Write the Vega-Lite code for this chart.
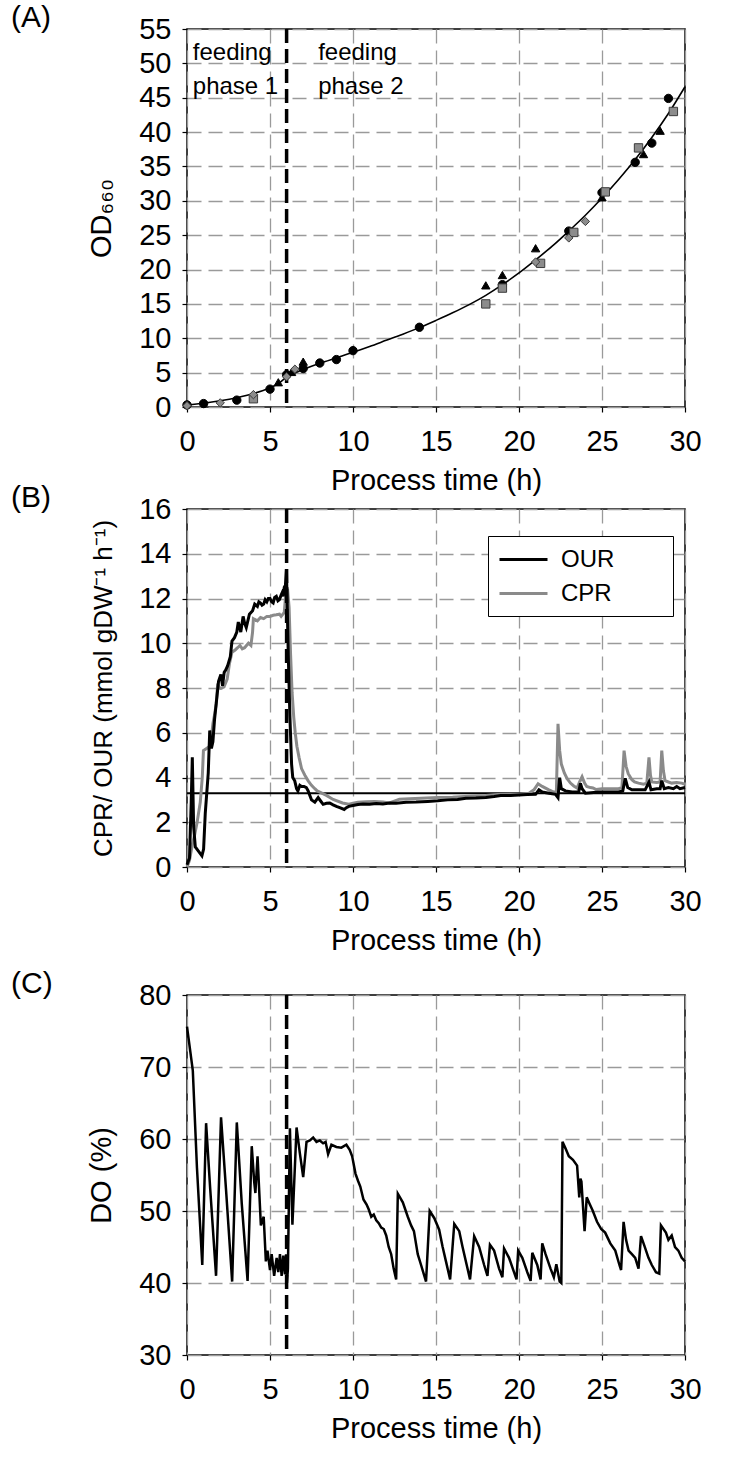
{
  "$schema": "https://vega.github.io/schema/vega-lite/v6.json",
  "padding": {"left": 10, "top": 2, "right": 10, "bottom": 5},
  "spacing": -14,
  "config": {
    "font": "Liberation Sans",
    "view": {"stroke": "black", "strokeWidth": 1.5},
    "axis": {
      "labelFontSize": 29, "titleFontSize": 29, "titleFontWeight": "normal",
      "labelColor": "black", "titleColor": "black", "tickColor": "black",
      "tickSize": 5, "tickWidth": 1.2, "domain": false,
      "gridColor": "#9a9a9a", "gridDash": [14, 7], "gridWidth": 1.3,
      "labelFlush": false, "labelOverlap": false, "labelBound": false,
      "labelFont": "Liberation Sans", "titleFont": "Liberation Sans"
    },
    "axisY": {"titlePadding": 22, "labelPadding": 11},
    "axisX": {"titlePadding": 10, "labelPadding": 15},
    "title": {"fontSize": 30, "fontWeight": "normal", "anchor": "start", "frame": "group", "dx": -176, "offset": -18, "baseline": "alphabetic", "color": "black"}
  },
  "datasets": {
    "fit": [
      {"t":0,"v":0.3},{"t":1,"v":0.55},{"t":2,"v":0.9},{"t":3,"v":1.35},{"t":4,"v":1.95},{"t":5,"v":2.8},{"t":5.5,"v":3.4},{"t":6,"v":4.35},{"t":6.5,"v":4.95},{"t":7,"v":5.45},{"t":8,"v":6.35},{"t":9,"v":7.15},{"t":10,"v":7.95},{"t":11,"v":8.8},{"t":12,"v":9.7},{"t":13,"v":10.6},{"t":14,"v":11.55},{"t":15,"v":12.6},{"t":16,"v":13.7},{"t":17,"v":14.9},{"t":18,"v":16.25},{"t":19,"v":17.8},{"t":20,"v":19.5},{"t":21,"v":21.4},{"t":22,"v":23.4},{"t":23,"v":25.6},{"t":24,"v":27.9},{"t":25,"v":30.4},{"t":26,"v":33.1},{"t":27,"v":36.0},{"t":28,"v":39.2},{"t":29,"v":42.7},{"t":30,"v":46.6}
    ],
    "phase": [{"t": 6}],
    "ref": [{"v": 3.3}],
    "labels": [
      {"t":0.35,"v":51.5,"label":"feeding"},{"t":0.35,"v":46.5,"label":"phase 1"},
      {"t":7.9,"v":51.5,"label":"feeding"},{"t":7.9,"v":46.5,"label":"phase 2"}
    ],
    "od": [
      {"s":"c","t":0,"v":0.3},{"s":"c","t":1,"v":0.5},{"s":"c","t":3,"v":1.0},{"s":"c","t":5,"v":2.6},{"s":"c","t":6,"v":4.7},{"s":"c","t":7,"v":5.6},{"s":"c","t":8,"v":6.4},{"s":"c","t":9,"v":6.9},{"s":"c","t":10,"v":8.2},{"s":"c","t":14,"v":11.6},{"s":"c","t":19,"v":17.8},{"s":"c","t":23,"v":25.6},{"s":"c","t":25,"v":31.2},{"s":"c","t":27,"v":35.6},{"s":"c","t":28,"v":38.4},{"s":"c","t":29,"v":44.9},
      {"s":"t","t":5.5,"v":3.6},{"s":"t","t":6.3,"v":5.1},{"s":"t","t":7,"v":6.6},{"s":"t","t":18,"v":17.7},{"s":"t","t":19,"v":19.2},{"s":"t","t":21,"v":23.1},{"s":"t","t":25,"v":30.5},{"s":"t","t":27.5,"v":36.8},{"s":"t","t":28.5,"v":40.2},
      {"s":"q","t":4,"v":1.2},{"s":"q","t":18,"v":15.0},{"s":"q","t":19,"v":17.3},{"s":"q","t":21.3,"v":20.9},{"s":"q","t":23.3,"v":25.4},{"s":"q","t":25.2,"v":31.3},{"s":"q","t":27.2,"v":37.7},{"s":"q","t":29.3,"v":43.0},
      {"s":"d","t":0,"v":0.2},{"s":"d","t":2,"v":0.6},{"s":"d","t":4,"v":1.8},{"s":"d","t":6,"v":4.4},{"s":"d","t":6.5,"v":5.5},{"s":"d","t":21,"v":21.1},{"s":"d","t":23,"v":24.6},{"s":"d","t":24,"v":27.0}
    ],
    "rates": [
      {"s":"CPR","t":0,"v":0.0},{"s":"CPR","t":0.15,"v":0.3},{"s":"CPR","t":0.32,"v":1.0},{"s":"CPR","t":0.45,"v":1.4},{"s":"CPR","t":0.61,"v":2.0},{"s":"CPR","t":0.8,"v":2.9},{"s":"CPR","t":0.92,"v":4.0},{"s":"CPR","t":0.99,"v":5.2},{"s":"CPR","t":1.18,"v":5.3},{"s":"CPR","t":1.37,"v":5.4},{"s":"CPR","t":1.47,"v":5.8},{"s":"CPR","t":1.56,"v":6.4},{"s":"CPR","t":1.66,"v":6.8},{"s":"CPR","t":1.76,"v":7.3},{"s":"CPR","t":1.85,"v":8.2},{"s":"CPR","t":1.95,"v":8.0},{"s":"CPR","t":2.04,"v":7.98},{"s":"CPR","t":2.23,"v":8.05},{"s":"CPR","t":2.42,"v":8.4},{"s":"CPR","t":2.56,"v":9.1},{"s":"CPR","t":2.71,"v":9.6},{"s":"CPR","t":2.9,"v":9.7},{"s":"CPR","t":3.05,"v":9.8},{"s":"CPR","t":3.19,"v":9.9},{"s":"CPR","t":3.33,"v":9.75},{"s":"CPR","t":3.47,"v":9.8},{"s":"CPR","t":3.7,"v":10.0},{"s":"CPR","t":3.85,"v":9.9},{"s":"CPR","t":3.95,"v":10.5},{"s":"CPR","t":4.0,"v":11.1},{"s":"CPR","t":4.24,"v":11.0},{"s":"CPR","t":4.43,"v":11.15},{"s":"CPR","t":4.62,"v":11.1},{"s":"CPR","t":4.81,"v":11.2},{"s":"CPR","t":5.0,"v":11.2},{"s":"CPR","t":5.19,"v":11.25},{"s":"CPR","t":5.38,"v":11.27},{"s":"CPR","t":5.57,"v":11.3},{"s":"CPR","t":5.67,"v":11.2},{"s":"CPR","t":5.86,"v":11.38},{"s":"CPR","t":5.95,"v":12.2},{"s":"CPR","t":6.05,"v":12.5},{"s":"CPR","t":6.15,"v":11.6},{"s":"CPR","t":6.24,"v":9.5},{"s":"CPR","t":6.33,"v":7.8},{"s":"CPR","t":6.43,"v":6.7},{"s":"CPR","t":6.52,"v":6.0},{"s":"CPR","t":6.62,"v":5.4},{"s":"CPR","t":6.75,"v":4.9},{"s":"CPR","t":6.9,"v":4.4},{"s":"CPR","t":7.1,"v":4.1},{"s":"CPR","t":7.3,"v":3.85},{"s":"CPR","t":7.5,"v":3.65},{"s":"CPR","t":7.7,"v":3.5},{"s":"CPR","t":7.84,"v":3.4},{"s":"CPR","t":8.0,"v":3.35},{"s":"CPR","t":8.4,"v":3.2},{"s":"CPR","t":8.8,"v":3.02},{"s":"CPR","t":9.37,"v":2.86},{"s":"CPR","t":9.75,"v":2.81},{"s":"CPR","t":10.0,"v":2.85},{"s":"CPR","t":10.3,"v":2.89},{"s":"CPR","t":10.8,"v":2.92},{"s":"CPR","t":11.3,"v":2.93},{"s":"CPR","t":11.8,"v":2.9},{"s":"CPR","t":12.2,"v":2.86},{"s":"CPR","t":12.8,"v":3.03},{"s":"CPR","t":13.4,"v":3.05},{"s":"CPR","t":14.1,"v":3.07},{"s":"CPR","t":15.1,"v":3.11},{"s":"CPR","t":16.0,"v":3.12},{"s":"CPR","t":17.2,"v":3.17},{"s":"CPR","t":18.0,"v":3.2},{"s":"CPR","t":18.7,"v":3.24},{"s":"CPR","t":19.5,"v":3.25},{"s":"CPR","t":20.0,"v":3.25},{"s":"CPR","t":20.6,"v":3.3},{"s":"CPR","t":20.9,"v":3.45},{"s":"CPR","t":21.15,"v":3.72},{"s":"CPR","t":21.4,"v":3.6},{"s":"CPR","t":21.8,"v":3.45},{"s":"CPR","t":22.0,"v":3.38},{"s":"CPR","t":22.25,"v":3.32},{"s":"CPR","t":22.35,"v":6.4},{"s":"CPR","t":22.45,"v":5.2},{"s":"CPR","t":22.55,"v":4.6},{"s":"CPR","t":22.73,"v":4.2},{"s":"CPR","t":22.9,"v":3.95},{"s":"CPR","t":23.1,"v":3.75},{"s":"CPR","t":23.3,"v":3.62},{"s":"CPR","t":23.5,"v":3.53},{"s":"CPR","t":23.65,"v":3.8},{"s":"CPR","t":23.8,"v":4.03},{"s":"CPR","t":23.95,"v":3.75},{"s":"CPR","t":24.08,"v":3.6},{"s":"CPR","t":24.3,"v":3.55},{"s":"CPR","t":24.46,"v":3.53},{"s":"CPR","t":24.65,"v":3.46},{"s":"CPR","t":25.0,"v":3.5},{"s":"CPR","t":25.5,"v":3.5},{"s":"CPR","t":26.0,"v":3.5},{"s":"CPR","t":26.2,"v":3.55},{"s":"CPR","t":26.33,"v":5.2},{"s":"CPR","t":26.45,"v":4.5},{"s":"CPR","t":26.58,"v":4.17},{"s":"CPR","t":26.8,"v":3.9},{"s":"CPR","t":26.96,"v":3.8},{"s":"CPR","t":27.2,"v":3.75},{"s":"CPR","t":27.5,"v":3.7},{"s":"CPR","t":27.7,"v":3.75},{"s":"CPR","t":27.83,"v":4.9},{"s":"CPR","t":27.92,"v":4.1},{"s":"CPR","t":28.0,"v":3.8},{"s":"CPR","t":28.3,"v":3.78},{"s":"CPR","t":28.5,"v":3.8},{"s":"CPR","t":28.6,"v":5.2},{"s":"CPR","t":28.7,"v":4.3},{"s":"CPR","t":28.8,"v":3.86},{"s":"CPR","t":29.0,"v":3.8},{"s":"CPR","t":29.2,"v":3.75},{"s":"CPR","t":29.5,"v":3.78},{"s":"CPR","t":29.8,"v":3.75},{"s":"CPR","t":30.0,"v":3.7},
      {"s":"OUR","t":0,"v":0.1},{"s":"OUR","t":0.15,"v":0.4},{"s":"OUR","t":0.25,"v":2.8},{"s":"OUR","t":0.32,"v":4.9},{"s":"OUR","t":0.4,"v":1.8},{"s":"OUR","t":0.5,"v":0.9},{"s":"OUR","t":0.7,"v":0.7},{"s":"OUR","t":0.9,"v":0.5},{"s":"OUR","t":1.0,"v":0.8},{"s":"OUR","t":1.1,"v":2.4},{"s":"OUR","t":1.2,"v":3.4},{"s":"OUR","t":1.28,"v":4.2},{"s":"OUR","t":1.37,"v":6.1},{"s":"OUR","t":1.47,"v":5.3},{"s":"OUR","t":1.56,"v":5.6},{"s":"OUR","t":1.66,"v":6.6},{"s":"OUR","t":1.76,"v":7.3},{"s":"OUR","t":1.9,"v":8.3},{"s":"OUR","t":2.04,"v":8.6},{"s":"OUR","t":2.14,"v":8.1},{"s":"OUR","t":2.24,"v":8.7},{"s":"OUR","t":2.33,"v":8.8},{"s":"OUR","t":2.45,"v":9.0},{"s":"OUR","t":2.61,"v":9.4},{"s":"OUR","t":2.71,"v":10.1},{"s":"OUR","t":2.86,"v":10.25},{"s":"OUR","t":3.0,"v":10.5},{"s":"OUR","t":3.09,"v":10.95},{"s":"OUR","t":3.24,"v":10.5},{"s":"OUR","t":3.38,"v":11.2},{"s":"OUR","t":3.47,"v":10.9},{"s":"OUR","t":3.57,"v":10.7},{"s":"OUR","t":3.76,"v":11.3},{"s":"OUR","t":3.95,"v":11.45},{"s":"OUR","t":4.08,"v":11.75},{"s":"OUR","t":4.24,"v":11.65},{"s":"OUR","t":4.33,"v":11.85},{"s":"OUR","t":4.43,"v":11.8},{"s":"OUR","t":4.52,"v":11.7},{"s":"OUR","t":4.62,"v":11.75},{"s":"OUR","t":4.71,"v":11.95},{"s":"OUR","t":4.81,"v":11.85},{"s":"OUR","t":4.9,"v":12.0},{"s":"OUR","t":5.0,"v":12.0},{"s":"OUR","t":5.1,"v":11.85},{"s":"OUR","t":5.19,"v":11.8},{"s":"OUR","t":5.28,"v":12.05},{"s":"OUR","t":5.38,"v":12.1},{"s":"OUR","t":5.48,"v":11.9},{"s":"OUR","t":5.57,"v":11.95},{"s":"OUR","t":5.67,"v":12.15},{"s":"OUR","t":5.73,"v":12.25},{"s":"OUR","t":5.8,"v":12.1},{"s":"OUR","t":5.86,"v":12.5},{"s":"OUR","t":5.93,"v":12.6},{"s":"OUR","t":5.99,"v":13.3},{"s":"OUR","t":6.1,"v":9.5},{"s":"OUR","t":6.2,"v":6.7},{"s":"OUR","t":6.3,"v":4.6},{"s":"OUR","t":6.37,"v":4.0},{"s":"OUR","t":6.49,"v":3.85},{"s":"OUR","t":6.6,"v":3.5},{"s":"OUR","t":6.68,"v":3.4},{"s":"OUR","t":6.8,"v":3.65},{"s":"OUR","t":6.9,"v":3.6},{"s":"OUR","t":7.05,"v":3.6},{"s":"OUR","t":7.19,"v":3.55},{"s":"OUR","t":7.3,"v":3.4},{"s":"OUR","t":7.4,"v":3.2},{"s":"OUR","t":7.5,"v":3.0},{"s":"OUR","t":7.7,"v":2.9},{"s":"OUR","t":7.9,"v":3.1},{"s":"OUR","t":8.05,"v":2.95},{"s":"OUR","t":8.2,"v":2.8},{"s":"OUR","t":8.4,"v":2.85},{"s":"OUR","t":8.6,"v":2.86},{"s":"OUR","t":8.8,"v":2.78},{"s":"OUR","t":9.0,"v":2.71},{"s":"OUR","t":9.2,"v":2.65},{"s":"OUR","t":9.47,"v":2.57},{"s":"OUR","t":9.6,"v":2.65},{"s":"OUR","t":9.75,"v":2.71},{"s":"OUR","t":10.0,"v":2.75},{"s":"OUR","t":10.3,"v":2.79},{"s":"OUR","t":10.6,"v":2.82},{"s":"OUR","t":11.0,"v":2.8},{"s":"OUR","t":11.4,"v":2.84},{"s":"OUR","t":11.8,"v":2.82},{"s":"OUR","t":12.2,"v":2.86},{"s":"OUR","t":12.6,"v":2.85},{"s":"OUR","t":13.2,"v":2.89},{"s":"OUR","t":13.8,"v":2.9},{"s":"OUR","t":14.5,"v":2.93},{"s":"OUR","t":15.1,"v":2.96},{"s":"OUR","t":15.7,"v":3.0},{"s":"OUR","t":16.3,"v":3.02},{"s":"OUR","t":16.8,"v":3.07},{"s":"OUR","t":17.4,"v":3.08},{"s":"OUR","t":18.0,"v":3.11},{"s":"OUR","t":18.5,"v":3.15},{"s":"OUR","t":18.9,"v":3.2},{"s":"OUR","t":19.5,"v":3.2},{"s":"OUR","t":20.0,"v":3.22},{"s":"OUR","t":20.5,"v":3.24},{"s":"OUR","t":21.0,"v":3.25},{"s":"OUR","t":21.2,"v":3.45},{"s":"OUR","t":21.4,"v":3.35},{"s":"OUR","t":21.8,"v":3.3},{"s":"OUR","t":22.2,"v":3.25},{"s":"OUR","t":22.35,"v":3.1},{"s":"OUR","t":22.45,"v":3.99},{"s":"OUR","t":22.55,"v":3.5},{"s":"OUR","t":22.8,"v":3.4},{"s":"OUR","t":23.2,"v":3.35},{"s":"OUR","t":23.6,"v":3.35},{"s":"OUR","t":23.7,"v":3.74},{"s":"OUR","t":23.8,"v":3.5},{"s":"OUR","t":24.0,"v":3.3},{"s":"OUR","t":24.5,"v":3.33},{"s":"OUR","t":25.0,"v":3.35},{"s":"OUR","t":25.5,"v":3.35},{"s":"OUR","t":26.0,"v":3.35},{"s":"OUR","t":26.25,"v":3.4},{"s":"OUR","t":26.4,"v":3.96},{"s":"OUR","t":26.55,"v":3.55},{"s":"OUR","t":26.8,"v":3.45},{"s":"OUR","t":27.2,"v":3.45},{"s":"OUR","t":27.6,"v":3.45},{"s":"OUR","t":27.83,"v":3.8},{"s":"OUR","t":27.95,"v":3.45},{"s":"OUR","t":28.3,"v":3.5},{"s":"OUR","t":28.5,"v":3.5},{"s":"OUR","t":28.6,"v":3.86},{"s":"OUR","t":28.75,"v":3.5},{"s":"OUR","t":29.0,"v":3.55},{"s":"OUR","t":29.3,"v":3.5},{"s":"OUR","t":29.5,"v":3.6},{"s":"OUR","t":29.7,"v":3.5},{"s":"OUR","t":30.0,"v":3.55}
    ],
    "dox": [
      {"t":0,"v":75.6},{"t":0.15,"v":73},{"t":0.35,"v":69.5},{"t":0.6,"v":56},{"t":0.92,"v":42.5},{"t":1.15,"v":62.2},{"t":1.4,"v":53},{"t":1.75,"v":41},{"t":2.05,"v":63.0},{"t":2.35,"v":53},{"t":2.72,"v":40.2},{"t":3.0,"v":62.3},{"t":3.3,"v":51},{"t":3.65,"v":40.3},{"t":3.9,"v":59.0},{"t":4.05,"v":54},{"t":4.12,"v":52.5},{"t":4.25,"v":57.6},{"t":4.45,"v":48},{"t":4.62,"v":49.2},{"t":4.75,"v":43},{"t":4.85,"v":44.5},{"t":5.0,"v":41.8},{"t":5.1,"v":44},{"t":5.25,"v":41},{"t":5.4,"v":43.5},{"t":5.5,"v":41.5},{"t":5.6,"v":44},{"t":5.7,"v":41},{"t":5.8,"v":43.8},{"t":5.9,"v":41.2},{"t":5.97,"v":44},{"t":6.02,"v":40},{"t":6.08,"v":42},{"t":6.2,"v":61.5},{"t":6.35,"v":48.1},{"t":6.6,"v":61.6},{"t":6.8,"v":58},{"t":7.0,"v":54.7},{"t":7.2,"v":59.6},{"t":7.4,"v":59.8},{"t":7.6,"v":60.2},{"t":7.8,"v":59.6},{"t":8.0,"v":59.8},{"t":8.2,"v":59.4},{"t":8.35,"v":59.6},{"t":8.5,"v":57.9},{"t":8.7,"v":59.2},{"t":9.0,"v":58.9},{"t":9.3,"v":58.8},{"t":9.6,"v":59.2},{"t":9.8,"v":58.5},{"t":9.95,"v":57.6},{"t":10.15,"v":55.2},{"t":10.3,"v":54.2},{"t":10.44,"v":53.4},{"t":10.63,"v":51.6},{"t":10.82,"v":50.9},{"t":10.95,"v":50.2},{"t":11.1,"v":49.2},{"t":11.25,"v":49.5},{"t":11.4,"v":48.7},{"t":11.55,"v":48.3},{"t":11.7,"v":47.7},{"t":11.85,"v":47.5},{"t":12.0,"v":46.6},{"t":12.15,"v":45},{"t":12.3,"v":44},{"t":12.45,"v":42},{"t":12.6,"v":40.5},{"t":12.7,"v":52.4},{"t":13.0,"v":51.2},{"t":13.3,"v":49.2},{"t":13.5,"v":48},{"t":13.67,"v":47.2},{"t":13.9,"v":44},{"t":14.1,"v":42.5},{"t":14.4,"v":40.2},{"t":14.62,"v":50.0},{"t":14.9,"v":49.0},{"t":15.19,"v":47.4},{"t":15.4,"v":45},{"t":15.6,"v":43},{"t":15.85,"v":40.5},{"t":16.1,"v":48.2},{"t":16.4,"v":47.2},{"t":16.6,"v":45},{"t":16.85,"v":42.5},{"t":17.05,"v":40.5},{"t":17.3,"v":46.5},{"t":17.6,"v":45},{"t":17.9,"v":42.5},{"t":18.1,"v":41},{"t":18.25,"v":45.3},{"t":18.5,"v":44.5},{"t":18.8,"v":42},{"t":19.0,"v":40.8},{"t":19.1,"v":44.8},{"t":19.4,"v":43.5},{"t":19.7,"v":41.5},{"t":19.85,"v":40.5},{"t":19.95,"v":44.5},{"t":20.2,"v":43.5},{"t":20.5,"v":41.5},{"t":20.7,"v":40.3},{"t":20.8,"v":44.2},{"t":21.1,"v":42.5},{"t":21.3,"v":40.5},{"t":21.4,"v":45.5},{"t":21.6,"v":44},{"t":21.9,"v":42},{"t":22.1,"v":40.8},{"t":22.25,"v":42.6},{"t":22.45,"v":40.2},{"t":22.55,"v":40},{"t":22.62,"v":59.6},{"t":22.8,"v":58.7},{"t":23.0,"v":57.6},{"t":23.25,"v":57.1},{"t":23.5,"v":56.3},{"t":23.63,"v":51.9},{"t":23.7,"v":54.5},{"t":23.76,"v":54.1},{"t":23.95,"v":47.2},{"t":24.08,"v":51.9},{"t":24.25,"v":51},{"t":24.43,"v":50.1},{"t":24.7,"v":48.5},{"t":24.95,"v":47.5},{"t":25.19,"v":47.0},{"t":25.5,"v":45.5},{"t":25.8,"v":44.5},{"t":26.05,"v":42.5},{"t":26.15,"v":41.8},{"t":26.3,"v":48.5},{"t":26.45,"v":46},{"t":26.6,"v":44.5},{"t":26.8,"v":44},{"t":27.0,"v":43.5},{"t":27.2,"v":42},{"t":27.35,"v":46.5},{"t":27.55,"v":45.2},{"t":27.8,"v":43.5},{"t":28.0,"v":42.5},{"t":28.25,"v":41.5},{"t":28.45,"v":41.3},{"t":28.55,"v":48},{"t":28.7,"v":47.5},{"t":28.85,"v":47},{"t":29.0,"v":46},{"t":29.2,"v":46.6},{"t":29.4,"v":45},{"t":29.6,"v":44.5},{"t":29.8,"v":43.5},{"t":30.0,"v":43}
    ]
  },
  "vconcat": [
    {
      "width": 498, "height": 378,
      "title": {"text": "(A)"},
      "layer": [
        {
          "data": {"name": "fit"},
          "mark": {"type": "line", "color": "black", "strokeWidth": 1.6, "interpolate": "monotone"},
          "encoding": {
            "x": {"field": "t", "type": "quantitative", "scale": {"domain": [0, 30], "nice": false}, "axis": {"values": [0,5,10,15,20,25,30], "title": "Process time (h)", "labelOverlap": false, "tickCount": 20}},
            "y": {"field": "v", "type": "quantitative", "scale": {"domain": [0, 55], "nice": false}, "axis": {"values": [0,5,10,15,20,25,30,35,40,45,50,55], "title": "OD₆₆₀", "labelOverlap": false, "tickCount": 20}}
          }
        },
        {
          "data": {"name": "phase"},
          "mark": {"type": "rule", "color": "black", "strokeWidth": 3.5, "strokeDash": [14, 6]},
          "encoding": {"x": {"field": "t", "type": "quantitative"}}
        },
        {
          "data": {"name": "od"},
          "mark": {"type": "point", "filled": true, "opacity": 1, "size": 70, "strokeWidth": 1},
          "encoding": {
            "x": {"field": "t", "type": "quantitative"},
            "y": {"field": "v", "type": "quantitative"},
            "shape": {"field": "s", "type": "nominal", "scale": {"domain": ["c","t","q","d"], "range": ["circle","triangle-up","square","diamond"]}, "legend": null},
            "fill": {"field": "s", "type": "nominal", "scale": {"domain": ["c","t","q","d"], "range": ["black","black","#8c8c8c","#8c8c8c"]}, "legend": null},
            "stroke": {"field": "s", "type": "nominal", "scale": {"domain": ["c","t","q","d"], "range": ["black","black","#3c3c3c","#3c3c3c"]}, "legend": null}
          }
        },
        {
          "data": {"name": "labels"},
          "mark": {"type": "text", "align": "left", "baseline": "middle", "fontSize": 24, "color": "black"},
          "encoding": {
            "x": {"field": "t", "type": "quantitative"},
            "y": {"field": "v", "type": "quantitative"},
            "text": {"field": "label"}
          }
        }
      ]
    },
    {
      "bounds": "flush",
      "spacing": 128,
      "vconcat": [
        {
          "width": 498, "height": 358,
          "title": {"text": "(B)"},
          "layer": [
            {
              "data": {"name": "ref"},
              "mark": {"type": "rule", "color": "black", "strokeWidth": 2},
              "encoding": {
                "y": {"field": "v", "type": "quantitative", "scale": {"domain": [0, 16], "nice": false}, "axis": {"values": [0,2,4,6,8,10,12,14,16], "title": "CPR/ OUR (mmol gDW⁻¹ h⁻¹)", "titleFontSize": 26, "labelOverlap": false, "tickCount": 20}}
              }
            },
            {
              "data": {"name": "rates"},
              "transform": [{"filter": "datum.s === 'CPR'"}],
              "mark": {"type": "line", "strokeWidth": 3},
              "encoding": {
                "x": {"field": "t", "type": "quantitative", "scale": {"domain": [0, 30], "nice": false}, "axis": {"values": [0,5,10,15,20,25,30], "title": "Process time (h)", "labelOverlap": false, "tickCount": 20}},
                "y": {"field": "v", "type": "quantitative"},
                "color": {"field": "s", "type": "nominal", "scale": {"domain": ["OUR","CPR"], "range": ["black","#8a8a8a"]},
                  "legend": {"orient": "none", "legendX": 301, "legendY": 507, "title": null, "strokeColor": "black", "fillColor": "white", "padding": 10, "labelFontSize": 24, "labelColor": "black", "symbolType": "M-1,0H3", "symbolStrokeWidth": 3, "symbolSize": 576, "rowPadding": 8, "labelOffset": 36, "labelExpr": "datum.label + '\u2003\u2003\u200b'"}}
              }
            },
            {
              "data": {"name": "rates"},
              "transform": [{"filter": "datum.s === 'OUR'"}],
              "mark": {"type": "line", "strokeWidth": 3},
              "encoding": {
                "x": {"field": "t", "type": "quantitative"},
                "y": {"field": "v", "type": "quantitative"},
                "color": {"field": "s", "type": "nominal"}
              }
            },
            {
              "data": {"name": "phase"},
              "mark": {"type": "rule", "color": "black", "strokeWidth": 3.5, "strokeDash": [14, 6]},
              "encoding": {"x": {"field": "t", "type": "quantitative"}}
            }
          ]
        },
        {
          "width": 498, "height": 360,
          "title": {"text": "(C)"},
          "layer": [
            {
              "data": {"name": "dox"},
              "mark": {"type": "line", "color": "black", "strokeWidth": 2.5},
              "encoding": {
                "x": {"field": "t", "type": "quantitative", "scale": {"domain": [0, 30], "nice": false}, "axis": {"values": [0,5,10,15,20,25,30], "title": "Process time (h)", "labelOverlap": false, "tickCount": 20}},
                "y": {"field": "v", "type": "quantitative", "scale": {"domain": [30, 80], "nice": false}, "axis": {"values": [30,40,50,60,70,80], "title": "DO (%)", "labelOverlap": false, "tickCount": 20}}
              }
            },
            {
              "data": {"name": "phase"},
              "mark": {"type": "rule", "color": "black", "strokeWidth": 3.5, "strokeDash": [14, 6]},
              "encoding": {"x": {"field": "t", "type": "quantitative"}}
            }
          ]
        }
      ]
    }
  ]
}
